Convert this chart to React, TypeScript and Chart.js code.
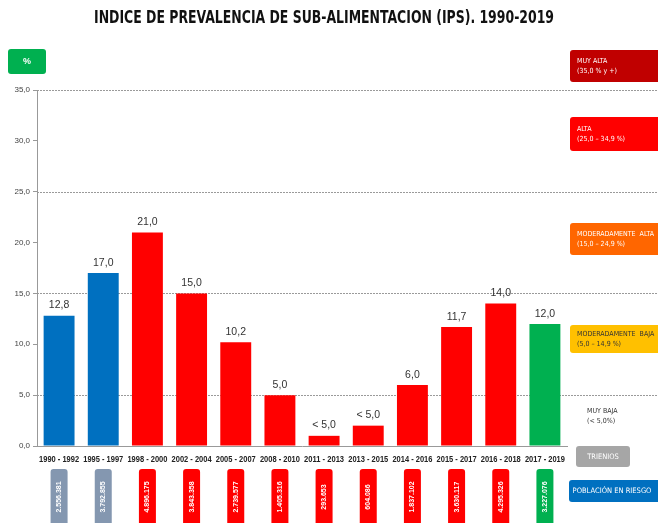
import React, { useEffect, useRef } from "react";
import { Chart, registerables } from "chart.js";

Chart.register(...registerables);

const TITLE = "INDICE DE PREVALENCIA DE SUB-ALIMENTACION (IPS). 1990-2019";
const categories = [
  "1990 - 1992", "1995 - 1997", "1998 - 2000", "2002 - 2004", "2005 - 2007", "2008 - 2010",
  "2011 - 2013", "2013 - 2015", "2014 - 2016", "2015 - 2017", "2016 - 2018", "2017 - 2019",
];
const values = [12.8, 17.0, 21.0, 15.0, 10.2, 5.0, 1.0, 2.0, 6.0, 11.7, 14.0, 12.0];
const valueLabels = ["12,8", "17,0", "21,0", "15,0", "10,2", "5,0", "< 5,0", "< 5,0", "6,0", "11,7", "14,0", "12,0"];
const population = [
  "2.556.381", "3.792.855", "4.896.175", "3.843.358", "2.739.577", "1.405.316",
  "293.653", "604.086", "1.837.102", "3.630.117", "4.295.326", "3.227.076",
];
const gridValues = [5, 15, 25, 35];
const Y_MIN = 0;
const Y_MAX = 35;
const Y_STEP = 5;

// styles
const BLUE = "#0070C0";
const RED = "#FF0000";
const GREEN = "#00B050";
const GREYBOX = "#8497B0";
const barColor = (i: number) => (i < 2 ? BLUE : i === categories.length - 1 ? GREEN : RED);
const popColor = (i: number) => (i < 2 ? GREYBOX : i === categories.length - 1 ? GREEN : RED);

const FONT = "'Liberation Sans', Arial, sans-serif";
const NARROW = "'Liberation Sans Narrow', 'DejaVu Sans Condensed', sans-serif";

function roundRect(ctx: CanvasRenderingContext2D, x: number, y: number, w: number, h: number, r: number) {
  ctx.beginPath();
  ctx.moveTo(x + r, y);
  ctx.lineTo(x + w - r, y);
  ctx.quadraticCurveTo(x + w, y, x + w, y + r);
  ctx.lineTo(x + w, y + h - r);
  ctx.quadraticCurveTo(x + w, y + h, x + w - r, y + h);
  ctx.lineTo(x + r, y + h);
  ctx.quadraticCurveTo(x, y + h, x, y + h - r);
  ctx.lineTo(x, y + r);
  ctx.quadraticCurveTo(x, y, x + r, y);
  ctx.closePath();
}

function fitText(ctx: CanvasRenderingContext2D, text: string, x: number, y: number, width: number) {
  const w = ctx.measureText(text).width;
  ctx.save();
  ctx.translate(x, y);
  ctx.scale(Math.min(1, width / w), 1);
  ctx.fillText(text, 0, 0);
  ctx.restore();
}

const decoPlugin = {
  id: "deco",
  beforeDatasetsDraw(chart: any) {
    const ctx = chart.ctx as CanvasRenderingContext2D;
    const y = chart.scales.y;
    const area = chart.chartArea;
    ctx.save();
    ctx.strokeStyle = "#9A9A9A";
    ctx.lineWidth = 1;
    ctx.setLineDash([2, 1]);
    for (const v of gridValues) {
      const py = Math.round(y.getPixelForValue(v)) + 0.5;
      ctx.beginPath();
      ctx.moveTo(area.left, py);
      ctx.lineTo(chart.width, py);
      ctx.stroke();
    }
    ctx.restore();
  },
  afterDraw(chart: any) {
    const ctx = chart.ctx as CanvasRenderingContext2D;
    const xs = chart.scales.x;
    const ys = chart.scales.y;
    ctx.save();

    // title
    ctx.fillStyle = "#111";
    ctx.font = `bold 18px ${NARROW}`;
    ctx.textAlign = "center";
    ctx.textBaseline = "middle";
    const tw = ctx.measureText(TITLE).width;
    ctx.save();
    ctx.translate(324, 18);
    ctx.scale(460 / tw, 1);
    ctx.fillText(TITLE, 0, 0);
    ctx.restore();

    // category labels
    ctx.font = `bold 9px ${FONT}`;
    ctx.fillStyle = "#222";
    categories.forEach((c, i) => {
      fitText(ctx, c, xs.getPixelForValue(i), 460, 40);
    });

    // value labels
    ctx.font = `10.5px ${FONT}`;
    ctx.fillStyle = "#333";
    ctx.textBaseline = "bottom";
    values.forEach((v, i) => {
      const px = xs.getPixelForValue(i);
      const py = ys.getPixelForValue(v);
      ctx.fillText(valueLabels[i], px, py - 5);
    });

    // population boxes
    values.forEach((_, i) => {
      const px = xs.getPixelForValue(i);
      ctx.fillStyle = popColor(i);
      roundRect(ctx, px - 8.5, 469, 17, 70, 3);
      ctx.fill();
      ctx.save();
      ctx.translate(px, 497);
      ctx.rotate(-Math.PI / 2);
      ctx.fillStyle = "#fff";
      ctx.font = `bold 7px ${FONT}`;
      ctx.textAlign = "center";
      ctx.textBaseline = "middle";
      ctx.fillText(population[i], 0, 0);
      ctx.restore();
    });

    // % box
    ctx.fillStyle = GREEN;
    roundRect(ctx, 8, 49, 38, 25, 3);
    ctx.fill();
    ctx.fillStyle = "#fff";
    ctx.font = `bold 9px ${FONT}`;
    ctx.textAlign = "center";
    ctx.textBaseline = "middle";
    ctx.fillText("%", 27, 62);

    // legend boxes
    const boxes = [
      { y: 50, h: 32, c: "#C00000", t: "#fff", l1: "MUY ALTA", l2: "(35,0 % y +)" },
      { y: 117, h: 34, c: "#FF0000", t: "#fff", l1: "ALTA", l2: "(25,0 – 34,9 %)" },
      { y: 223, h: 32, c: "#FF6600", t: "#fff", l1: "MODERADAMENTE  ALTA", l2: "(15,0 – 24,9 %)" },
      { y: 325, h: 28, c: "#FFC000", t: "#333", l1: "MODERADAMENTE  BAJA", l2: "(5,0 – 14,9 %)" },
    ];
    ctx.textAlign = "left";
    for (const b of boxes) {
      ctx.fillStyle = b.c;
      roundRect(ctx, 570, b.y, 96, b.h, 3);
      ctx.fill();
      ctx.fillStyle = b.t;
      ctx.font = `7px ${NARROW}`;
      ctx.fillText(b.l1, 577, b.y + b.h / 2 - 5);
      ctx.fillText(b.l2, 577, b.y + b.h / 2 + 5);
    }
    ctx.fillStyle = "#333";
    ctx.font = `7px ${NARROW}`;
    ctx.fillText("MUY BAJA", 587, 411);
    ctx.fillText("(< 5,0%)", 587, 421);

    ctx.fillStyle = "#A6A6A6";
    roundRect(ctx, 576, 446, 54, 21, 3);
    ctx.fill();
    ctx.fillStyle = "#fff";
    ctx.textAlign = "center";
    ctx.font = `7.5px ${NARROW}`;
    ctx.fillText("TRIENIOS", 603, 457);

    ctx.fillStyle = BLUE;
    roundRect(ctx, 569, 480, 96, 22, 3);
    ctx.fill();
    ctx.fillStyle = "#fff";
    ctx.fillText("POBLACIÓN EN RIESGO", 612, 491);

    ctx.restore();
  },
};

export default function App() {
  const ref = useRef<HTMLCanvasElement | null>(null);
  useEffect(() => {
    document.body.style.margin = "0";
    const canvas = ref.current!;
    const chart = new Chart(canvas, {
      type: "bar",
      data: {
        labels: categories,
        datasets: [
          {
            data: values,
            backgroundColor: values.map((_, i) => barColor(i)),
            borderWidth: 0,
            categoryPercentage: 1,
            barPercentage: 0.7,
          },
        ],
      },
      options: {
        responsive: false,
        animation: false,
        devicePixelRatio: 1,
        layout: { padding: { left: 0, right: 91, top: 90, bottom: 0 } },
        plugins: { legend: { display: false }, tooltip: { enabled: false }, title: { display: false } },
        scales: {
          x: {
            grid: { display: false },
            border: { color: "#999" },
            ticks: { display: false },
            afterFit: (s: any) => {
              s.height = 77;
            },
          },
          y: {
            min: Y_MIN,
            max: Y_MAX,
            ticks: {
              stepSize: Y_STEP,
              font: { family: FONT, size: 8 },
              color: "#444",
              padding: 3,
              callback: (v: any) => Number(v).toFixed(1).replace(".", ","),
            },
            grid: { drawOnChartArea: false, tickLength: 4, color: "#999" },
            border: { color: "#999" },
            afterFit: (s: any) => {
              s.width = 37;
            },
          },
        },
      },
      plugins: [decoPlugin],
    });
    return () => chart.destroy();
  }, []);
  return (
    <div style={{ position: "fixed", left: 0, top: 0, width: 658, height: 523, background: "#fff" }}>
      <canvas ref={ref} width={658} height={523} style={{ display: "block" }} />
    </div>
  );
}
